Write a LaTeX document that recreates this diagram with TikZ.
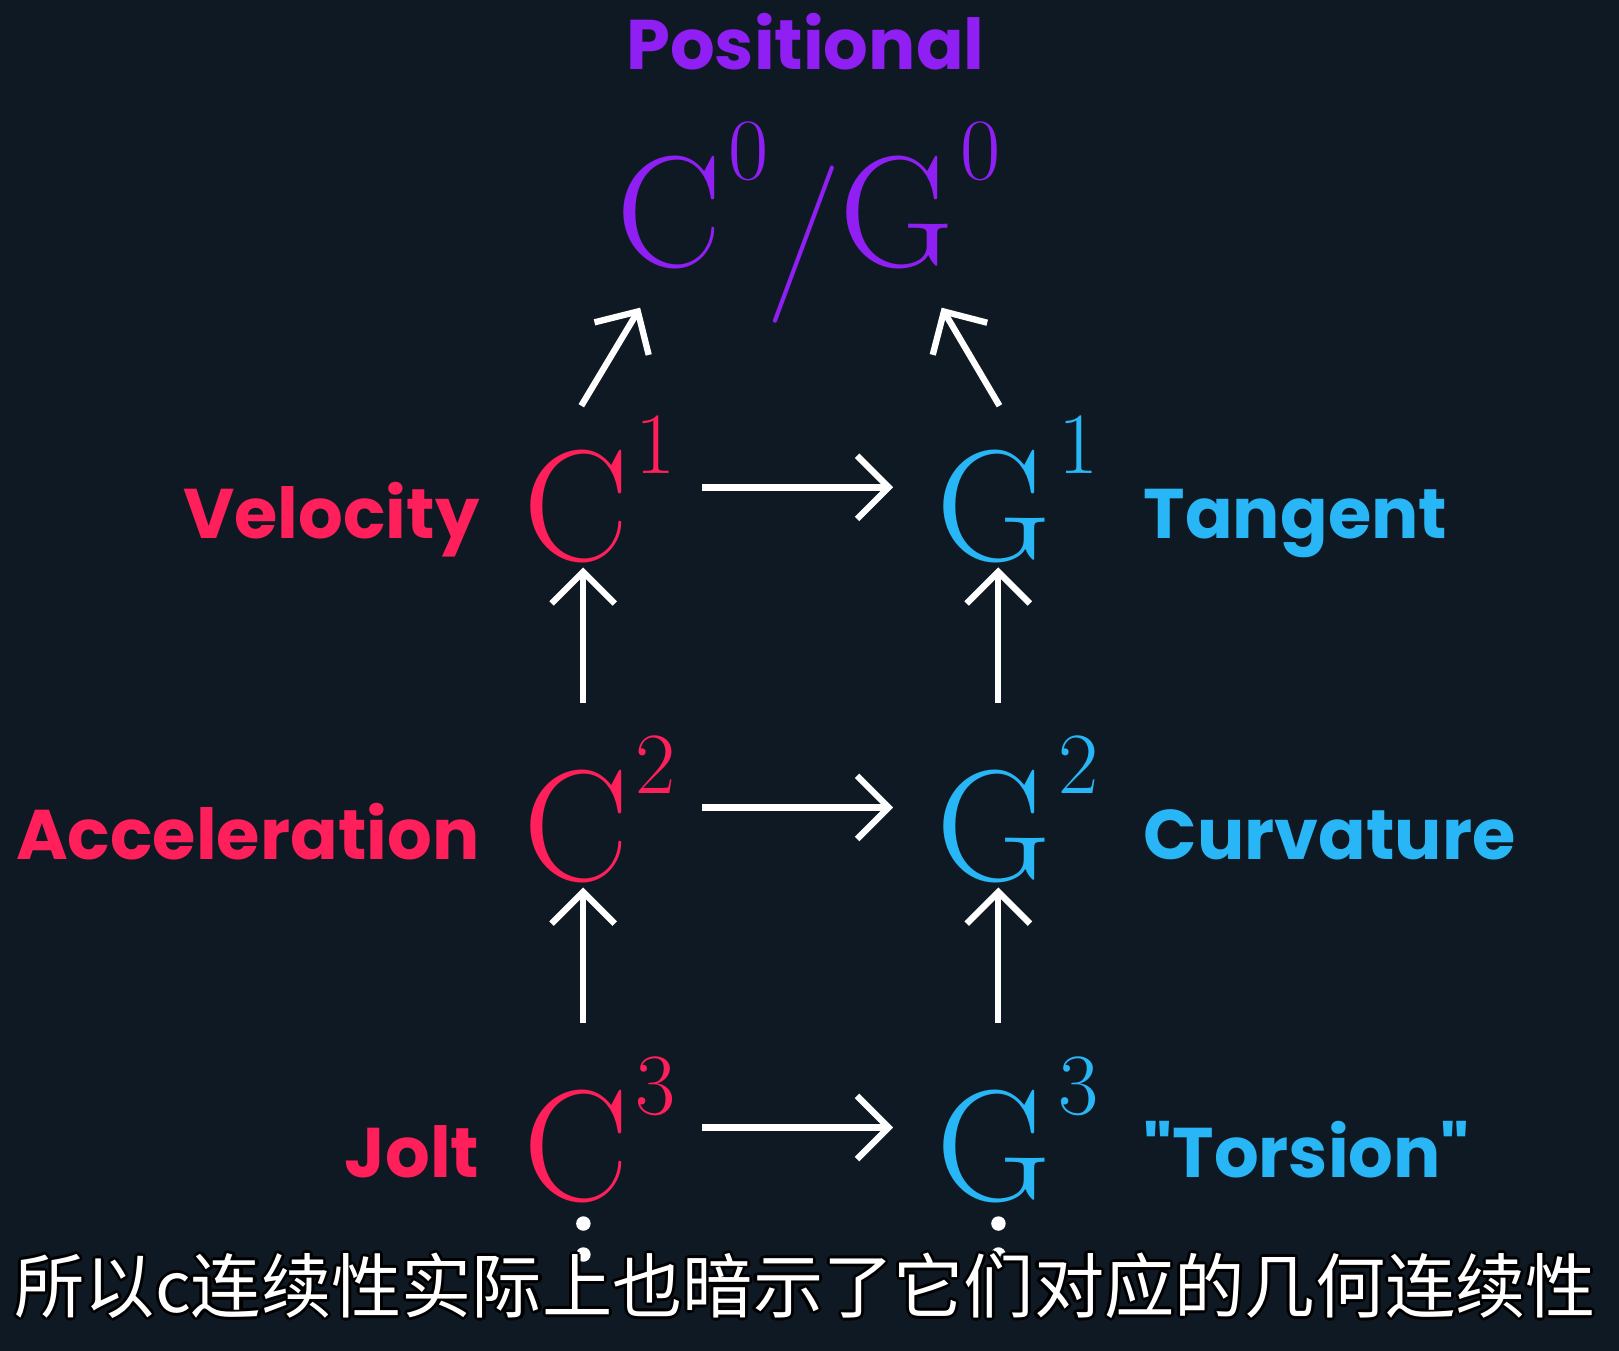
\documentclass[tikz,border=0pt]{standalone}
\usepackage{amsmath}
\usepackage{fontspec}
\newfontfamily\lab{Poppins}
\newfontfamily\cjk{Noto Sans CJK SC}
\usetikzlibrary{arrows.meta, calc}
\definecolor{bgdark}{HTML}{0F1923}
\definecolor{cred}{HTML}{FF1F5A}
\definecolor{gblue}{HTML}{29B6F6}
\definecolor{ppurple}{HTML}{8F1FF2}
\newcommand{\upidx}[1]{\kern0.04em\raisebox{0.55em}{$\scriptstyle #1$}}
\tikzset{
    arr/.style={-{Straight Barb[length=9pt,width=18pt,line width=1.8pt]}, line width=1.8pt, white},
    big/.style={inner sep=0pt, font=\fontsize{45}{50}\selectfont},
    labtext/.style={inner sep=0pt, font=\lab\fontsize{20}{24}\selectfont\bfseries}
}
\begin{document}
\begin{tikzpicture}[x=0.010325cm, y=-0.010325cm]
    \fill[bgdark] (0,0) rectangle (1568,1308);
    \useasboundingbox (0,0) rectangle (1568,1308);

    % top level
    \node[labtext, ppurple, anchor=base] (pos) at (780,67) {Positional};
    \node[big, ppurple, anchor=base] (top) at (783,258) {$\mathrm{C}\upidx{0}\Big/\mathrm{G}\upidx{0}$};

    % C column and G column
    \foreach \i/\y in {1/475, 2/785, 3/1095} {
        \node[big, cred] (c\i) at (558,\y) {$\mathrm{C}\rlap{\upidx{\i}}$};
        \node[big, gblue] (g\i) at (963,\y) {$\mathrm{G}\rlap{\upidx{\i}}$};
        \draw[arr] ($(c\i.center)+(122,-3)$) -- ($(g\i.center)+(-98,-3)$);
    }
    \foreach \a/\b in {2/1, 3/2} {
        \draw[arr, shorten <=1.08cm, shorten >=0.77cm] ([xshift=0.07cm]c\a.center) -- ([xshift=0.07cm]c\b.center);
        \draw[arr, shorten <=1.08cm, shorten >=0.77cm] ([xshift=0.04cm]g\a.center) -- ([xshift=0.04cm]g\b.center);
    }

    % into the top
    \coordinate (cl) at (563,393);
    \coordinate (cr) at (620,298);
    \coordinate (gl) at (968,393);
    \coordinate (gr) at (912,298);
    \draw[arr] (cl) -- (cr);
    \draw[arr] (gl) -- (gr);

    % labels
    \node[labtext, cred, anchor=base east] (vel) at (465,522) {Velocity};
    \node[labtext, cred, anchor=base east] (acc) at (465,832) {Acceleration};
    \node[labtext, cred, anchor=base east] (jolt) at (465,1140) {Jolt};
    \node[labtext, gblue, anchor=base west] (tan) at (1107,522) {Tangent};
    \node[labtext, gblue, anchor=base west] (cur) at (1107,832) {Curvature};
    \node[labtext, gblue, anchor=base west] (tor) at (1107,1140) {\symbol{34}Torsion\symbol{34}};

    % dots
    \foreach \x in {565, 967} {
        \fill[white] (\x,1185) circle (7);
        \fill[white] (\x,1215) circle (7);
    }

    % subtitle
    \foreach \dx/\dy in {-3/0, 3/0, 0/-3, 0/3, -2/-2, 2/2, -2/2, 2/-2} {
        \node[black, font=\cjk\fontsize{20}{24}\selectfont] at (780+\dx,1245+\dy) {所以c连续性实际上也暗示了它们对应的几何连续性};
    }
    \node[white, font=\cjk\fontsize{20}{24}\selectfont] (sub) at (780,1245) {所以c连续性实际上也暗示了它们对应的几何连续性};
\end{tikzpicture}
\end{document}
